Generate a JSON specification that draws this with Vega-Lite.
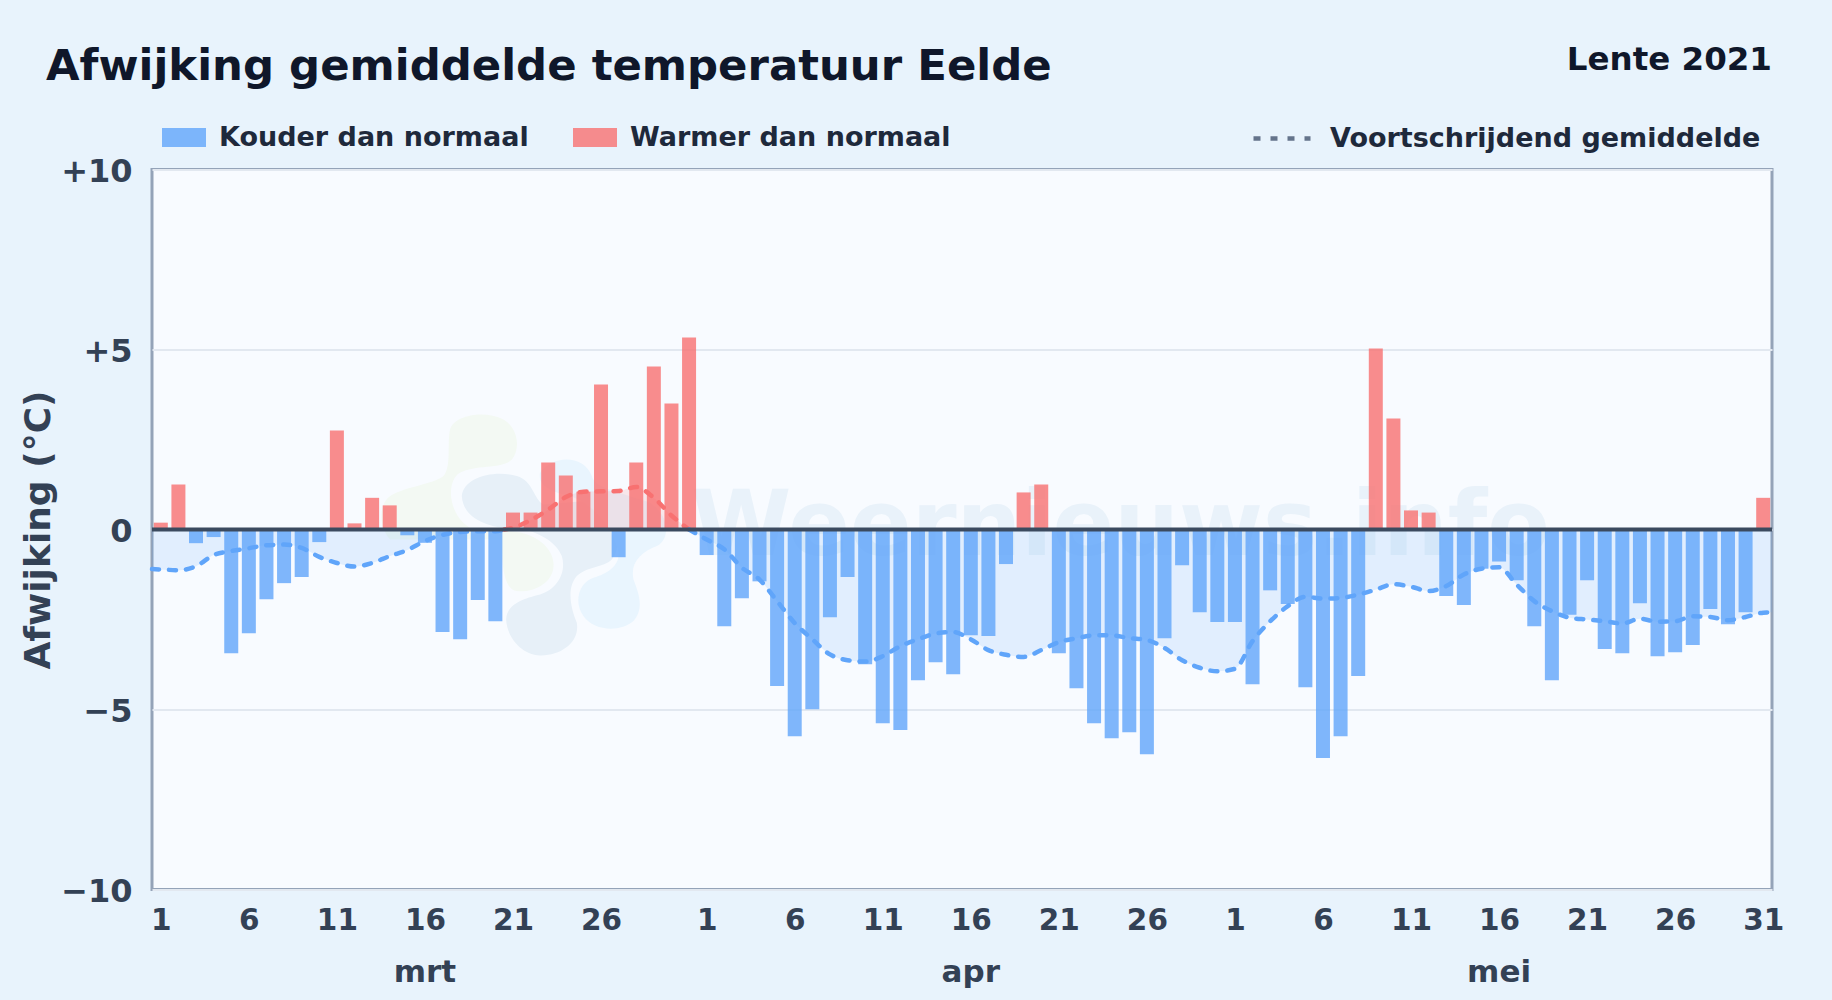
{"$schema":"https://vega.github.io/schema/vega-lite/v6.json","autosize":"none","width":1620,"height":720,"padding":{"left":152,"top":169.5,"right":60,"bottom":110.5},"background":"#e8f3fc","config":{"font":"DejaVu Sans","view":{"fill":"#f8fbff","stroke":"#94a3b8","strokeWidth":3}},"title":{"text":"Afwijking gemiddelde temperatuur Eelde","anchor":"start","frame":"group","dx":-106,"offset":-79.5,"baseline":"alphabetic","font":"DejaVu Sans","fontSize":43.4,"fontWeight":"bold","color":"#0f172a"},"datasets":{"dagen":[{"datum":"2021-03-01","dag":1,"afwijking":0.19,"soort":"Warmer dan normaal"},{"datum":"2021-03-02","dag":2,"afwijking":1.25,"soort":"Warmer dan normaal"},{"datum":"2021-03-03","dag":3,"afwijking":-0.38,"soort":"Kouder dan normaal"},{"datum":"2021-03-04","dag":4,"afwijking":-0.21,"soort":"Kouder dan normaal"},{"datum":"2021-03-05","dag":5,"afwijking":-3.44,"soort":"Kouder dan normaal"},{"datum":"2021-03-06","dag":6,"afwijking":-2.88,"soort":"Kouder dan normaal"},{"datum":"2021-03-07","dag":7,"afwijking":-1.94,"soort":"Kouder dan normaal"},{"datum":"2021-03-08","dag":8,"afwijking":-1.49,"soort":"Kouder dan normaal"},{"datum":"2021-03-09","dag":9,"afwijking":-1.32,"soort":"Kouder dan normaal"},{"datum":"2021-03-10","dag":10,"afwijking":-0.35,"soort":"Kouder dan normaal"},{"datum":"2021-03-11","dag":11,"afwijking":2.75,"soort":"Warmer dan normaal"},{"datum":"2021-03-12","dag":12,"afwijking":0.17,"soort":"Warmer dan normaal"},{"datum":"2021-03-13","dag":13,"afwijking":0.88,"soort":"Warmer dan normaal"},{"datum":"2021-03-14","dag":14,"afwijking":0.67,"soort":"Warmer dan normaal"},{"datum":"2021-03-15","dag":15,"afwijking":-0.16,"soort":"Kouder dan normaal"},{"datum":"2021-03-16","dag":16,"afwijking":-0.37,"soort":"Kouder dan normaal"},{"datum":"2021-03-17","dag":17,"afwijking":-2.85,"soort":"Kouder dan normaal"},{"datum":"2021-03-18","dag":18,"afwijking":-3.05,"soort":"Kouder dan normaal"},{"datum":"2021-03-19","dag":19,"afwijking":-1.96,"soort":"Kouder dan normaal"},{"datum":"2021-03-20","dag":20,"afwijking":-2.55,"soort":"Kouder dan normaal"},{"datum":"2021-03-21","dag":21,"afwijking":0.47,"soort":"Warmer dan normaal"},{"datum":"2021-03-22","dag":22,"afwijking":0.47,"soort":"Warmer dan normaal"},{"datum":"2021-03-23","dag":23,"afwijking":1.86,"soort":"Warmer dan normaal"},{"datum":"2021-03-24","dag":24,"afwijking":1.5,"soort":"Warmer dan normaal"},{"datum":"2021-03-25","dag":25,"afwijking":1.05,"soort":"Warmer dan normaal"},{"datum":"2021-03-26","dag":26,"afwijking":4.03,"soort":"Warmer dan normaal"},{"datum":"2021-03-27","dag":27,"afwijking":-0.77,"soort":"Kouder dan normaal"},{"datum":"2021-03-28","dag":28,"afwijking":1.86,"soort":"Warmer dan normaal"},{"datum":"2021-03-29","dag":29,"afwijking":4.53,"soort":"Warmer dan normaal"},{"datum":"2021-03-30","dag":30,"afwijking":3.5,"soort":"Warmer dan normaal"},{"datum":"2021-03-31","dag":31,"afwijking":5.33,"soort":"Warmer dan normaal"},{"datum":"2021-04-01","dag":32,"afwijking":-0.71,"soort":"Kouder dan normaal"},{"datum":"2021-04-02","dag":33,"afwijking":-2.69,"soort":"Kouder dan normaal"},{"datum":"2021-04-03","dag":34,"afwijking":-1.91,"soort":"Kouder dan normaal"},{"datum":"2021-04-04","dag":35,"afwijking":-1.44,"soort":"Kouder dan normaal"},{"datum":"2021-04-05","dag":36,"afwijking":-4.35,"soort":"Kouder dan normaal"},{"datum":"2021-04-06","dag":37,"afwijking":-5.74,"soort":"Kouder dan normaal"},{"datum":"2021-04-07","dag":38,"afwijking":-4.99,"soort":"Kouder dan normaal"},{"datum":"2021-04-08","dag":39,"afwijking":-2.44,"soort":"Kouder dan normaal"},{"datum":"2021-04-09","dag":40,"afwijking":-1.32,"soort":"Kouder dan normaal"},{"datum":"2021-04-10","dag":41,"afwijking":-3.74,"soort":"Kouder dan normaal"},{"datum":"2021-04-11","dag":42,"afwijking":-5.38,"soort":"Kouder dan normaal"},{"datum":"2021-04-12","dag":43,"afwijking":-5.57,"soort":"Kouder dan normaal"},{"datum":"2021-04-13","dag":44,"afwijking":-4.19,"soort":"Kouder dan normaal"},{"datum":"2021-04-14","dag":45,"afwijking":-3.69,"soort":"Kouder dan normaal"},{"datum":"2021-04-15","dag":46,"afwijking":-4.02,"soort":"Kouder dan normaal"},{"datum":"2021-04-16","dag":47,"afwijking":-2.94,"soort":"Kouder dan normaal"},{"datum":"2021-04-17","dag":48,"afwijking":-2.96,"soort":"Kouder dan normaal"},{"datum":"2021-04-18","dag":49,"afwijking":-0.96,"soort":"Kouder dan normaal"},{"datum":"2021-04-19","dag":50,"afwijking":1.03,"soort":"Warmer dan normaal"},{"datum":"2021-04-20","dag":51,"afwijking":1.25,"soort":"Warmer dan normaal"},{"datum":"2021-04-21","dag":52,"afwijking":-3.44,"soort":"Kouder dan normaal"},{"datum":"2021-04-22","dag":53,"afwijking":-4.41,"soort":"Kouder dan normaal"},{"datum":"2021-04-23","dag":54,"afwijking":-5.38,"soort":"Kouder dan normaal"},{"datum":"2021-04-24","dag":55,"afwijking":-5.8,"soort":"Kouder dan normaal"},{"datum":"2021-04-25","dag":56,"afwijking":-5.63,"soort":"Kouder dan normaal"},{"datum":"2021-04-26","dag":57,"afwijking":-6.24,"soort":"Kouder dan normaal"},{"datum":"2021-04-27","dag":58,"afwijking":-3.02,"soort":"Kouder dan normaal"},{"datum":"2021-04-28","dag":59,"afwijking":-0.99,"soort":"Kouder dan normaal"},{"datum":"2021-04-29","dag":60,"afwijking":-2.3,"soort":"Kouder dan normaal"},{"datum":"2021-04-30","dag":61,"afwijking":-2.57,"soort":"Kouder dan normaal"},{"datum":"2021-05-01","dag":62,"afwijking":-2.57,"soort":"Kouder dan normaal"},{"datum":"2021-05-02","dag":63,"afwijking":-4.3,"soort":"Kouder dan normaal"},{"datum":"2021-05-03","dag":64,"afwijking":-1.69,"soort":"Kouder dan normaal"},{"datum":"2021-05-04","dag":65,"afwijking":-2.07,"soort":"Kouder dan normaal"},{"datum":"2021-05-05","dag":66,"afwijking":-4.38,"soort":"Kouder dan normaal"},{"datum":"2021-05-06","dag":67,"afwijking":-6.35,"soort":"Kouder dan normaal"},{"datum":"2021-05-07","dag":68,"afwijking":-5.74,"soort":"Kouder dan normaal"},{"datum":"2021-05-08","dag":69,"afwijking":-4.07,"soort":"Kouder dan normaal"},{"datum":"2021-05-09","dag":70,"afwijking":5.03,"soort":"Warmer dan normaal"},{"datum":"2021-05-10","dag":71,"afwijking":3.08,"soort":"Warmer dan normaal"},{"datum":"2021-05-11","dag":72,"afwijking":0.53,"soort":"Warmer dan normaal"},{"datum":"2021-05-12","dag":73,"afwijking":0.47,"soort":"Warmer dan normaal"},{"datum":"2021-05-13","dag":74,"afwijking":-1.85,"soort":"Kouder dan normaal"},{"datum":"2021-05-14","dag":75,"afwijking":-2.1,"soort":"Kouder dan normaal"},{"datum":"2021-05-15","dag":76,"afwijking":-1.09,"soort":"Kouder dan normaal"},{"datum":"2021-05-16","dag":77,"afwijking":-0.89,"soort":"Kouder dan normaal"},{"datum":"2021-05-17","dag":78,"afwijking":-1.41,"soort":"Kouder dan normaal"},{"datum":"2021-05-18","dag":79,"afwijking":-2.69,"soort":"Kouder dan normaal"},{"datum":"2021-05-19","dag":80,"afwijking":-4.19,"soort":"Kouder dan normaal"},{"datum":"2021-05-20","dag":81,"afwijking":-2.37,"soort":"Kouder dan normaal"},{"datum":"2021-05-21","dag":82,"afwijking":-1.41,"soort":"Kouder dan normaal"},{"datum":"2021-05-22","dag":83,"afwijking":-3.32,"soort":"Kouder dan normaal"},{"datum":"2021-05-23","dag":84,"afwijking":-3.44,"soort":"Kouder dan normaal"},{"datum":"2021-05-24","dag":85,"afwijking":-2.05,"soort":"Kouder dan normaal"},{"datum":"2021-05-25","dag":86,"afwijking":-3.52,"soort":"Kouder dan normaal"},{"datum":"2021-05-26","dag":87,"afwijking":-3.41,"soort":"Kouder dan normaal"},{"datum":"2021-05-27","dag":88,"afwijking":-3.21,"soort":"Kouder dan normaal"},{"datum":"2021-05-28","dag":89,"afwijking":-2.21,"soort":"Kouder dan normaal"},{"datum":"2021-05-29","dag":90,"afwijking":-2.63,"soort":"Kouder dan normaal"},{"datum":"2021-05-30","dag":91,"afwijking":-2.3,"soort":"Kouder dan normaal"},{"datum":"2021-05-31","dag":92,"afwijking":0.88,"soort":"Warmer dan normaal"}],"gemiddelde":[{"dag":0.5,"g":-1.1,"richting":"onder","segment":1,"naam":"Voortschrijdend gemiddelde"},{"dag":1,"g":-1.11,"richting":"onder","segment":1,"naam":"Voortschrijdend gemiddelde"},{"dag":2,"g":-1.13,"richting":"onder","segment":1,"naam":"Voortschrijdend gemiddelde"},{"dag":3,"g":-1.02,"richting":"onder","segment":1,"naam":"Voortschrijdend gemiddelde"},{"dag":4,"g":-0.71,"richting":"onder","segment":1,"naam":"Voortschrijdend gemiddelde"},{"dag":5,"g":-0.6,"richting":"onder","segment":1,"naam":"Voortschrijdend gemiddelde"},{"dag":6,"g":-0.52,"richting":"onder","segment":1,"naam":"Voortschrijdend gemiddelde"},{"dag":7,"g":-0.44,"richting":"onder","segment":1,"naam":"Voortschrijdend gemiddelde"},{"dag":8,"g":-0.42,"richting":"onder","segment":1,"naam":"Voortschrijdend gemiddelde"},{"dag":9,"g":-0.51,"richting":"onder","segment":1,"naam":"Voortschrijdend gemiddelde"},{"dag":10,"g":-0.76,"richting":"onder","segment":1,"naam":"Voortschrijdend gemiddelde"},{"dag":11,"g":-0.93,"richting":"onder","segment":1,"naam":"Voortschrijdend gemiddelde"},{"dag":12,"g":-1.03,"richting":"onder","segment":1,"naam":"Voortschrijdend gemiddelde"},{"dag":13,"g":-0.93,"richting":"onder","segment":1,"naam":"Voortschrijdend gemiddelde"},{"dag":14,"g":-0.74,"richting":"onder","segment":1,"naam":"Voortschrijdend gemiddelde"},{"dag":15,"g":-0.57,"richting":"onder","segment":1,"naam":"Voortschrijdend gemiddelde"},{"dag":16,"g":-0.32,"richting":"onder","segment":1,"naam":"Voortschrijdend gemiddelde"},{"dag":17,"g":-0.15,"richting":"onder","segment":1,"naam":"Voortschrijdend gemiddelde"},{"dag":18,"g":-0.07,"richting":"onder","segment":1,"naam":"Voortschrijdend gemiddelde"},{"dag":19,"g":-0.05,"richting":"onder","segment":1,"naam":"Voortschrijdend gemiddelde"},{"dag":20,"g":-0.05,"richting":"onder","segment":1,"naam":"Voortschrijdend gemiddelde"},{"dag":20.5,"g":0,"richting":"onder","segment":1,"naam":"Voortschrijdend gemiddelde"},{"dag":20.5,"g":0,"richting":"boven","segment":2,"naam":"Voortschrijdend gemiddelde"},{"dag":21,"g":0.05,"richting":"boven","segment":2,"naam":"Voortschrijdend gemiddelde"},{"dag":22,"g":0.26,"richting":"boven","segment":2,"naam":"Voortschrijdend gemiddelde"},{"dag":23,"g":0.55,"richting":"boven","segment":2,"naam":"Voortschrijdend gemiddelde"},{"dag":24,"g":0.9,"richting":"boven","segment":2,"naam":"Voortschrijdend gemiddelde"},{"dag":25,"g":1.05,"richting":"boven","segment":2,"naam":"Voortschrijdend gemiddelde"},{"dag":26,"g":1.06,"richting":"boven","segment":2,"naam":"Voortschrijdend gemiddelde"},{"dag":27,"g":1.07,"richting":"boven","segment":2,"naam":"Voortschrijdend gemiddelde"},{"dag":28,"g":1.18,"richting":"boven","segment":2,"naam":"Voortschrijdend gemiddelde"},{"dag":29,"g":0.88,"richting":"boven","segment":2,"naam":"Voortschrijdend gemiddelde"},{"dag":30,"g":0.39,"richting":"boven","segment":2,"naam":"Voortschrijdend gemiddelde"},{"dag":31,"g":0,"richting":"boven","segment":2,"naam":"Voortschrijdend gemiddelde"},{"dag":31,"g":0,"richting":"onder","segment":3,"naam":"Voortschrijdend gemiddelde"},{"dag":32,"g":-0.28,"richting":"onder","segment":3,"naam":"Voortschrijdend gemiddelde"},{"dag":33,"g":-0.55,"richting":"onder","segment":3,"naam":"Voortschrijdend gemiddelde"},{"dag":34,"g":-1.06,"richting":"onder","segment":3,"naam":"Voortschrijdend gemiddelde"},{"dag":35,"g":-1.39,"richting":"onder","segment":3,"naam":"Voortschrijdend gemiddelde"},{"dag":36,"g":-1.99,"richting":"onder","segment":3,"naam":"Voortschrijdend gemiddelde"},{"dag":37,"g":-2.6,"richting":"onder","segment":3,"naam":"Voortschrijdend gemiddelde"},{"dag":38,"g":-3.05,"richting":"onder","segment":3,"naam":"Voortschrijdend gemiddelde"},{"dag":39,"g":-3.47,"richting":"onder","segment":3,"naam":"Voortschrijdend gemiddelde"},{"dag":40,"g":-3.63,"richting":"onder","segment":3,"naam":"Voortschrijdend gemiddelde"},{"dag":41,"g":-3.67,"richting":"onder","segment":3,"naam":"Voortschrijdend gemiddelde"},{"dag":42,"g":-3.52,"richting":"onder","segment":3,"naam":"Voortschrijdend gemiddelde"},{"dag":43,"g":-3.24,"richting":"onder","segment":3,"naam":"Voortschrijdend gemiddelde"},{"dag":44,"g":-3.05,"richting":"onder","segment":3,"naam":"Voortschrijdend gemiddelde"},{"dag":45,"g":-2.89,"richting":"onder","segment":3,"naam":"Voortschrijdend gemiddelde"},{"dag":46,"g":-2.85,"richting":"onder","segment":3,"naam":"Voortschrijdend gemiddelde"},{"dag":47,"g":-3.05,"richting":"onder","segment":3,"naam":"Voortschrijdend gemiddelde"},{"dag":48,"g":-3.35,"richting":"onder","segment":3,"naam":"Voortschrijdend gemiddelde"},{"dag":49,"g":-3.48,"richting":"onder","segment":3,"naam":"Voortschrijdend gemiddelde"},{"dag":50,"g":-3.54,"richting":"onder","segment":3,"naam":"Voortschrijdend gemiddelde"},{"dag":51,"g":-3.35,"richting":"onder","segment":3,"naam":"Voortschrijdend gemiddelde"},{"dag":52,"g":-3.13,"richting":"onder","segment":3,"naam":"Voortschrijdend gemiddelde"},{"dag":53,"g":-3.02,"richting":"onder","segment":3,"naam":"Voortschrijdend gemiddelde"},{"dag":54,"g":-2.94,"richting":"onder","segment":3,"naam":"Voortschrijdend gemiddelde"},{"dag":55,"g":-2.94,"richting":"onder","segment":3,"naam":"Voortschrijdend gemiddelde"},{"dag":56,"g":-3.02,"richting":"onder","segment":3,"naam":"Voortschrijdend gemiddelde"},{"dag":57,"g":-3.07,"richting":"onder","segment":3,"naam":"Voortschrijdend gemiddelde"},{"dag":58,"g":-3.29,"richting":"onder","segment":3,"naam":"Voortschrijdend gemiddelde"},{"dag":59,"g":-3.63,"richting":"onder","segment":3,"naam":"Voortschrijdend gemiddelde"},{"dag":60,"g":-3.84,"richting":"onder","segment":3,"naam":"Voortschrijdend gemiddelde"},{"dag":61,"g":-3.94,"richting":"onder","segment":3,"naam":"Voortschrijdend gemiddelde"},{"dag":62,"g":-3.87,"richting":"onder","segment":3,"naam":"Voortschrijdend gemiddelde"},{"dag":63,"g":-3.1,"richting":"onder","segment":3,"naam":"Voortschrijdend gemiddelde"},{"dag":64,"g":-2.55,"richting":"onder","segment":3,"naam":"Voortschrijdend gemiddelde"},{"dag":65,"g":-2.13,"richting":"onder","segment":3,"naam":"Voortschrijdend gemiddelde"},{"dag":66,"g":-1.87,"richting":"onder","segment":3,"naam":"Voortschrijdend gemiddelde"},{"dag":67,"g":-1.92,"richting":"onder","segment":3,"naam":"Voortschrijdend gemiddelde"},{"dag":68,"g":-1.9,"richting":"onder","segment":3,"naam":"Voortschrijdend gemiddelde"},{"dag":69,"g":-1.81,"richting":"onder","segment":3,"naam":"Voortschrijdend gemiddelde"},{"dag":70,"g":-1.67,"richting":"onder","segment":3,"naam":"Voortschrijdend gemiddelde"},{"dag":71,"g":-1.52,"richting":"onder","segment":3,"naam":"Voortschrijdend gemiddelde"},{"dag":72,"g":-1.59,"richting":"onder","segment":3,"naam":"Voortschrijdend gemiddelde"},{"dag":73,"g":-1.71,"richting":"onder","segment":3,"naam":"Voortschrijdend gemiddelde"},{"dag":74,"g":-1.57,"richting":"onder","segment":3,"naam":"Voortschrijdend gemiddelde"},{"dag":75,"g":-1.25,"richting":"onder","segment":3,"naam":"Voortschrijdend gemiddelde"},{"dag":76,"g":-1.09,"richting":"onder","segment":3,"naam":"Voortschrijdend gemiddelde"},{"dag":77,"g":-1.05,"richting":"onder","segment":3,"naam":"Voortschrijdend gemiddelde"},{"dag":78,"g":-1.53,"richting":"onder","segment":3,"naam":"Voortschrijdend gemiddelde"},{"dag":79,"g":-1.99,"richting":"onder","segment":3,"naam":"Voortschrijdend gemiddelde"},{"dag":80,"g":-2.27,"richting":"onder","segment":3,"naam":"Voortschrijdend gemiddelde"},{"dag":81,"g":-2.45,"richting":"onder","segment":3,"naam":"Voortschrijdend gemiddelde"},{"dag":82,"g":-2.5,"richting":"onder","segment":3,"naam":"Voortschrijdend gemiddelde"},{"dag":83,"g":-2.55,"richting":"onder","segment":3,"naam":"Voortschrijdend gemiddelde"},{"dag":84,"g":-2.61,"richting":"onder","segment":3,"naam":"Voortschrijdend gemiddelde"},{"dag":85,"g":-2.48,"richting":"onder","segment":3,"naam":"Voortschrijdend gemiddelde"},{"dag":86,"g":-2.56,"richting":"onder","segment":3,"naam":"Voortschrijdend gemiddelde"},{"dag":87,"g":-2.55,"richting":"onder","segment":3,"naam":"Voortschrijdend gemiddelde"},{"dag":88,"g":-2.41,"richting":"onder","segment":3,"naam":"Voortschrijdend gemiddelde"},{"dag":89,"g":-2.43,"richting":"onder","segment":3,"naam":"Voortschrijdend gemiddelde"},{"dag":90,"g":-2.52,"richting":"onder","segment":3,"naam":"Voortschrijdend gemiddelde"},{"dag":91,"g":-2.43,"richting":"onder","segment":3,"naam":"Voortschrijdend gemiddelde"},{"dag":92,"g":-2.31,"richting":"onder","segment":3,"naam":"Voortschrijdend gemiddelde"},{"dag":92.5,"g":-2.3,"richting":"onder","segment":3,"naam":"Voortschrijdend gemiddelde"}]},"layer":[{"data":{"values":[{"tekst":"Weernieuws.info"}]},"mark":{"type":"text","font":"DejaVu Sans","fontWeight":"bold","fontSize":91,"align":"center","baseline":"alphabetic","color":"#e9f2fa"},"encoding":{"text":{"field":"tekst","type":"nominal"},"x":{"datum":55.5,"type":"quantitative","title":null,"scale":{"domain":[0.5,92.5],"nice":false,"zero":false,"padding":0},"axis":{"values":[1,6,11,16,21,26,32,37,42,47,52,57,62,67,72,77,82,87,92],"labelExpr":"datum.value<=31?datum.value:datum.value<=61?datum.value-31:datum.value-61","grid":false,"domain":false,"ticks":false,"labelPadding":17,"labelFontSize":29.5,"labelFontWeight":"bold","labelColor":"#334155","labelFont":"DejaVu Sans","labelOverlap":false,"labelFlush":false,"labelBound":false,"title":null}},"y":{"datum":-0.72,"type":"quantitative","title":"Afwijking (°C)","scale":{"domain":[-10,10],"nice":false},"axis":{"values":[-10,-5,0,5,10],"labelExpr":"datum.value>0?'+'+datum.value:datum.value<0?'−'+abs(datum.value):'0'","grid":true,"gridColor":"#e2e8f0","gridWidth":2,"domain":false,"ticks":false,"labelPadding":20,"labelOffset":2,"labelFontSize":32,"labelFontWeight":"bold","labelColor":"#334155","labelFont":"DejaVu Sans","titleFont":"DejaVu Sans","titleFontSize":36,"titleFontWeight":"bold","titleColor":"#334155","titlePadding":3.5,"title":"Afwijking (°C)"}}}},{"data":{"values":[{"deel":"logo groen"}]},"mark":{"type":"point","filled":true,"opacity":1,"color":"#f3f9f3","size":444444,"shape":"M-.16,-.31C-.15,-.35 -.06,-.37 0,-.34C.05,-.31 .05,-.24 .02,-.215C-.02,-.19 -.1,-.205 -.138,-.175C-.175,-.14 -.16,-.04 -.09,-.01L0,-.005C.07,-.01 .145,.03 .15,.09C.155,.15 .09,.18 .04,.175C0,.17 -.005,.09 -.005,.02L-.34,.02C-.37,-.01 -.38,-.08 -.34,-.11C-.29,-.14 -.21,-.145 -.18,-.17C-.155,-.2 -.17,-.27 -.16,-.31Z"},"encoding":{"x":{"datum":20.46,"type":"quantitative","title":null},"y":{"datum":-0.09,"type":"quantitative","title":"Afwijking (°C)"}}},{"data":{"values":[{"deel":"logo grijs"}]},"mark":{"type":"point","filled":true,"opacity":1,"color":"#e7f0f8","size":444444,"shape":"M-.125,-.11C-.12,-.165 -.03,-.19 .04,-.17C.09,-.155 .09,-.1 .12,-.085L.3,-.1C.34,-.05 .36,.04 .325,.08C.3,.105 .25,.1 .22,.13C.19,.165 .2,.22 .22,.27C.23,.33 .17,.37 .11,.368C.05,.365 .01,.31 .008,.26C.01,.21 .07,.195 .11,.185C.16,.17 .19,.12 .175,.07C.16,.03 .11,0 .06,-.01C-.02,-.01 -.12,-.03 -.125,-.11Z"},"encoding":{"x":{"datum":20.46,"type":"quantitative","title":null},"y":{"datum":-0.09,"type":"quantitative","title":"Afwijking (°C)"}}},{"data":{"values":[{"deel":"logo blauw"}]},"mark":{"type":"point","filled":true,"opacity":1,"color":"#e9f5fe","size":444444,"shape":"M.11,-.18C.14,-.23 .24,-.24 .265,-.17C.275,-.13 .36,-.12 .44,-.09C.5,-.05 .5,.02 .46,.04C.41,.06 .38,.09 .39,.14C.41,.19 .42,.23 .39,.265C.35,.3 .27,.295 .24,.25C.21,.21 .225,.15 .27,.135C.32,.12 .36,.09 .34,.04C.32,-.03 .26,-.09 .2,-.11C.15,-.12 .1,-.14 .11,-.18Z"},"encoding":{"x":{"datum":20.46,"type":"quantitative","title":null},"y":{"datum":-0.09,"type":"quantitative","title":"Afwijking (°C)"}}},{"data":{"name":"gemiddelde"},"mark":{"type":"area","interpolate":"monotone","fillOpacity":0.15,"strokeOpacity":0},"encoding":{"x":{"field":"dag","type":"quantitative","title":null},"y":{"field":"g","type":"quantitative","title":"Afwijking (°C)"},"y2":{"datum":0},"fill":{"field":"richting","type":"nominal","scale":{"domain":["onder","boven"],"range":["#60a5fa","#f87171"]},"legend":null},"detail":{"field":"segment","type":"nominal"}}},{"data":{"name":"dagen"},"mark":{"type":"bar","width":14,"opacity":0.8},"encoding":{"x":{"field":"dag","type":"quantitative","title":null},"y":{"field":"afwijking","type":"quantitative","title":"Afwijking (°C)"},"color":{"field":"soort","type":"nominal","scale":{"domain":["Kouder dan normaal","Warmer dan normaal"],"range":["#60a5fa","#f87171"]},"legend":{"title":null,"orient":"none","legendX":10,"legendY":-54,"direction":"horizontal","columns":2,"symbolType":"M-1,-.43H1V.43H-1Z","symbolSize":1936,"symbolStrokeWidth":0,"labelFont":"DejaVu Sans","labelFontSize":27,"labelFontWeight":"bold","labelColor":"#1e293b","labelLimit":600,"labelOffset":13,"columnPadding":44}}}},{"data":{"name":"gemiddelde"},"mark":{"type":"line","interpolate":"monotone","strokeWidth":4.5,"strokeCap":"round"},"encoding":{"x":{"field":"dag","type":"quantitative","title":null},"y":{"field":"g","type":"quantitative","title":"Afwijking (°C)"},"stroke":{"field":"richting","type":"nominal","scale":{"domain":["onder","boven"],"range":["#60a5fa","#f87171"]},"legend":null},"strokeDash":{"field":"naam","type":"nominal","scale":{"domain":["Voortschrijdend gemiddelde"],"range":[[7,10]]},"legend":{"title":null,"orient":"none","legendX":1099,"legendY":-62,"symbolType":"stroke","symbolSize":3249,"symbolStrokeWidth":4.5,"symbolStrokeColor":"#64748b","symbolDash":[5,11],"labelFont":"DejaVu Sans","labelFontSize":27,"labelFontWeight":"bold","labelColor":"#1e293b","labelLimit":600,"labelOffset":17}},"detail":{"field":"segment","type":"nominal"}}},{"data":{"values":[{"nul":0}]},"mark":{"type":"rule","color":"#3b4a5f","strokeWidth":4},"encoding":{"y":{"field":"nul","type":"quantitative","title":"Afwijking (°C)"}}},{"data":{"values":[{"maand":"mrt","dag":16},{"maand":"apr","dag":47},{"maand":"mei","dag":77}]},"mark":{"type":"text","font":"DejaVu Sans","fontWeight":"bold","fontSize":31,"align":"center","baseline":"alphabetic","dy":92,"color":"#334155"},"encoding":{"text":{"field":"maand","type":"nominal"},"x":{"field":"dag","type":"quantitative","title":null},"y":{"datum":-10,"type":"quantitative","title":"Afwijking (°C)"}}},{"data":{"values":[{"tekst":"Lente 2021"}]},"mark":{"type":"text","font":"DejaVu Sans","fontWeight":"bold","fontSize":32.5,"align":"right","baseline":"alphabetic","dy":-100,"dx":0,"color":"#0f172a"},"encoding":{"text":{"field":"tekst","type":"nominal"},"x":{"datum":92.5,"type":"quantitative","title":null},"y":{"datum":10,"type":"quantitative","title":"Afwijking (°C)"}}}]}
